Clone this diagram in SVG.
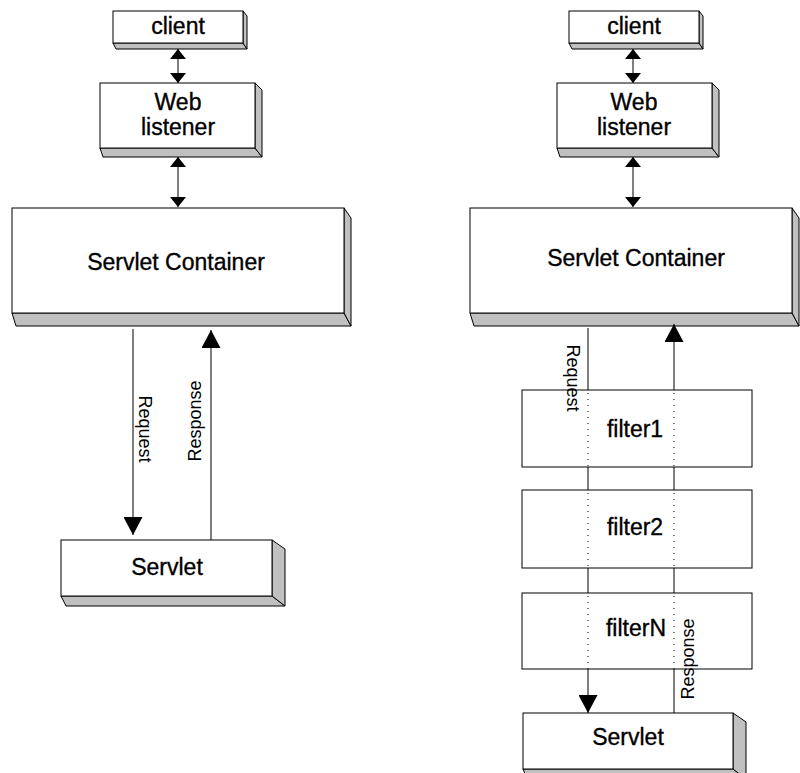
<svg xmlns="http://www.w3.org/2000/svg" width="800" height="773" viewBox="0 0 800 773">
<style>
.face{fill:#fff;stroke:#000;stroke-width:1}
.side{fill:#c0c0c0;stroke:#000;stroke-width:1}
.lbl{font-family:"Liberation Sans",Arial,sans-serif;font-size:23px;fill:#000;stroke:#000;stroke-width:0.35;text-anchor:middle}
.rot{font-family:"Liberation Sans",Arial,sans-serif;font-size:18px;fill:#000;text-anchor:middle}
.ln{fill:none;stroke:#000;stroke-width:1}
.dot{fill:none;stroke:#000;stroke-width:1;stroke-dasharray:1 5}
</style>
<defs>
<marker id="big" viewBox="0 0 18 19" refX="18" refY="9.5" markerWidth="18" markerHeight="19" markerUnits="userSpaceOnUse" orient="auto"><path d="M0,0 L18,9.5 L0,19 z" fill="#000"/></marker>
<marker id="sm" viewBox="0 0 10 16" refX="10" refY="8" markerWidth="10" markerHeight="16" markerUnits="userSpaceOnUse" orient="auto-start-reverse"><path d="M0,0 L10,8 L0,16 z" fill="#000"/></marker>
</defs>
<rect width="800" height="773" fill="#fff"/>

<!-- LEFT DIAGRAM -->
<g id="l-client">
<polygon class="side" points="113,43 243,43 247,49 116,49"/>
<polygon class="side" points="243,11 247,16 247,49 243,43"/>
<rect class="face" x="113" y="11" width="130" height="32"/>
<text class="lbl" x="178" y="34">client</text>
</g>
<g id="l-web">
<polygon class="side" points="100,148 255,148 262,157 103,157"/>
<polygon class="side" points="255,83 262,90 262,157 255,148"/>
<rect class="face" x="100" y="83" width="155" height="65"/>
<text class="lbl" x="178" y="110">Web</text>
<text class="lbl" x="178" y="135">listener</text>
</g>
<g id="l-container">
<polygon class="side" points="12,313 344,313 351,326 16,326"/>
<polygon class="side" points="344,208 351,218 351,326 344,313"/>
<rect class="face" x="12" y="208" width="332" height="105"/>
<text class="lbl" x="176" y="270">Servlet Container</text>
</g>
<g id="l-servlet">
<polygon class="side" points="61,596 272,596 285,606 66,606"/>
<polygon class="side" points="272,540 285,549 285,606 272,596"/>
<rect class="face" x="61" y="540" width="211" height="56"/>
<text class="lbl" x="167" y="575">Servlet</text>
</g>

<!-- RIGHT DIAGRAM -->
<g id="r-client">
<polygon class="side" points="569,43 699,43 703,49 572,49"/>
<polygon class="side" points="699,11 703,16 703,49 699,43"/>
<rect class="face" x="569" y="11" width="130" height="32"/>
<text class="lbl" x="634" y="34">client</text>
</g>
<g id="r-web">
<polygon class="side" points="557,148 712,148 719,157 560,157"/>
<polygon class="side" points="712,83 719,90 719,157 712,148"/>
<rect class="face" x="557" y="83" width="155" height="65"/>
<text class="lbl" x="634" y="110">Web</text>
<text class="lbl" x="634" y="135">listener</text>
</g>
<g id="r-container">
<polygon class="side" points="470,313 792,313 799,326 474,326"/>
<polygon class="side" points="792,208 799,218 799,326 792,313"/>
<rect class="face" x="470" y="208" width="322" height="105"/>
<text class="lbl" x="636" y="266">Servlet Container</text>
</g>
<g id="r-filter1">
<rect class="face" x="522" y="390" width="230" height="77"/>
<text class="lbl" x="635" y="437">filter1</text>
</g>
<g id="r-filter2">
<rect class="face" x="522" y="490" width="230" height="78"/>
<text class="lbl" x="635" y="535">filter2</text>
</g>
<g id="r-filterN">
<rect class="face" x="522" y="593" width="230" height="76"/>
<text class="lbl" x="636" y="636">filterN</text>
</g>
<g id="r-servlet">
<polygon class="side" points="523,769 733,769 746,779 527,779"/>
<polygon class="side" points="733,713 746,722 746,779 733,769"/>
<rect class="face" x="523" y="713" width="210" height="56"/>
<text class="lbl" x="628" y="745">Servlet</text>
</g>

<!-- CONNECTORS -->
<g id="connectors">
<line class="ln" x1="178" y1="49" x2="178" y2="83" marker-start="url(#sm)" marker-end="url(#sm)"/>
<line class="ln" x1="178" y1="157" x2="178" y2="207" marker-start="url(#sm)" marker-end="url(#sm)"/>
<line class="ln" x1="133" y1="329" x2="133" y2="535" marker-end="url(#big)"/>
<line class="ln" x1="211" y1="540" x2="211" y2="330" marker-end="url(#big)"/>
<text class="rot" transform="translate(139,429) rotate(90)">Request</text>
<text class="rot" transform="translate(201,421) rotate(-90)">Response</text>

<line class="ln" x1="633" y1="49" x2="633" y2="83" marker-start="url(#sm)" marker-end="url(#sm)"/>
<line class="ln" x1="633" y1="157" x2="633" y2="207" marker-start="url(#sm)" marker-end="url(#sm)"/>
<path class="ln" d="M588,328 V390 M588,467 V490 M588,568 V593 M588,669 V713" marker-end="url(#big)"/>
<path class="dot" d="M588,393 V467 M588,493 V568 M588,596 V669"/>
<path class="ln" d="M674,713 V669 M674,593 V568 M674,490 V467 M674,390 V324" marker-end="url(#big)"/>
<path class="dot" d="M674,393 V467 M674,493 V568 M674,596 V669"/>
<text class="rot" transform="translate(567,378) rotate(90)">Request</text>
<text class="rot" transform="translate(694,659) rotate(-90)">Response</text>
</g>
</svg>
